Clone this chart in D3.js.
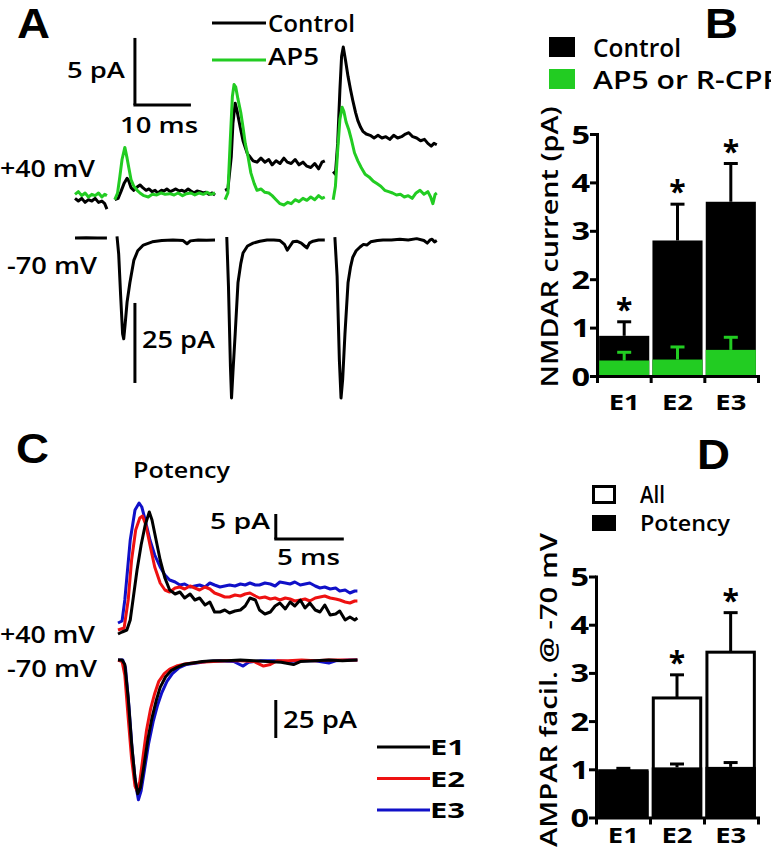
<!DOCTYPE html>
<html><head><meta charset="utf-8">
<script src="https://cdn.jsdelivr.net/npm/d3@7"></script>
<style>
body{margin:0;background:#fff;}
svg{display:block;font-family:"Open Sans",sans-serif;}
</style></head><body>
<svg id="c" width="771" height="853"></svg>
<script>
// ---------------- DATA ----------------
// Panel A: traces, time in ms, current in pA (segments separated by stimulus artifact blanking)
const aCtrlPos = [
  [[0,-0.1],[0.6,-0.3],[1.2,-0.1],[1.8,-0.4],[2.4,-0.2],[3.0,-0.3],[3.6,-0.1],[4.2,-0.4],[4.8,-0.3],[5.3,-0.5],[5.7,-0.9]],
  [[7.1,-0.2],[7.7,-0.1],[8.2,0.4],[8.75,1.0],[9.3,1.4],[9.6,1.2],[10.0,0.7],[10.5,0.5],[11.1,0.75],[11.6,0.9],[12.1,0.7],[12.7,0.5],[13.2,0.6],[13.75,0.4],[14.3,0.5],[14.8,0.3],[15.4,0.5],[15.9,0.45],[16.4,0.6],[17.0,0.4],[17.5,0.5],[18.0,0.6],[18.6,0.45],[19.1,0.5],[19.6,0.4],[20.2,0.6],[20.7,0.45],[21.25,0.3],[21.8,0.45],[22.3,0.4],[22.9,0.3],[23.4,0.35],[23.9,0.2],[24.5,0.3],[25.0,0.15]],
  [[26.8,0.5],[27.3,0.6],[27.9,3.0],[28.2,5.5],[28.6,7.0],[28.9,6.5],[29.5,5.2],[30.0,4.2],[30.4,3.7],[30.8,3.2],[31.25,3.0],[31.8,2.7],[32.5,2.6],[33.2,2.9],[33.9,2.6],[34.6,2.8],[35.2,2.4],[35.9,2.7],[36.6,2.5],[37.3,2.9],[37.9,2.6],[38.6,2.5],[39.3,2.8],[40.0,2.4],[40.7,2.6],[41.4,2.3],[42.1,2.2],[42.8,2.5],[43.5,2.1],[44.1,2.6],[44.6,2.7]],
  [[46.1,1.9],[46.5,1.7],[46.9,4.0],[47.3,8.0],[47.6,10.5],[47.9,11.2],[48.3,10.2],[48.75,9.0],[49.2,8.0],[49.6,7.2],[50.1,6.3],[50.5,5.7],[51.0,5.2],[51.4,4.9],[52.0,4.7],[52.7,4.6],[53.4,4.4],[54.1,4.6],[54.8,4.4],[55.5,4.5],[56.2,4.3],[56.9,4.6],[57.6,4.4],[58.3,4.5],[59.0,4.7],[59.6,4.8],[60.3,4.5],[61.0,4.4],[61.7,4.2],[62.4,4.3],[63.0,4.0],[63.6,3.8],[64.1,4.0],[64.6,3.9]]
];
const aAP5Pos = [
  [[0,0.2],[0.6,0.4],[1.2,0.1],[1.8,0.3],[2.4,0.0],[3.0,0.2],[3.6,0.1],[4.2,0.3],[4.8,0.0],[5.3,0.2],[5.7,0.1]],
  [[7.1,-0.2],[7.6,0.3],[8.0,1.5],[8.4,2.8],[8.9,3.7],[9.3,2.9],[9.6,2.2],[10.0,1.3],[10.5,0.8],[11.1,0.5],[11.6,0.3],[12.3,0.1],[13.1,0.0],[13.8,0.2],[14.6,0.15],[15.4,0.3],[16.1,0.2],[16.9,0.25],[17.7,0.15],[18.4,0.3],[19.2,0.1],[19.9,0.25],[20.7,0.3],[21.4,0.15],[22.2,0.3],[22.9,0.2],[23.6,0.35],[24.3,0.2],[25.0,0.3]],
  [[26.8,-0.2],[27.3,0.3],[27.7,4.0],[28.1,7.5],[28.4,8.4],[28.7,8.2],[29.1,7.3],[29.6,6.3],[30.0,5.2],[30.4,4.0],[30.9,3.0],[31.4,1.8],[32.0,1.0],[32.5,0.5],[33.2,0.6],[33.9,0.35],[34.6,0.3],[35.2,0.1],[35.9,-0.2],[36.6,-0.5],[37.3,-0.6],[38.0,-0.4],[38.6,-0.5],[39.3,-0.2],[40.0,-0.35],[40.7,-0.1],[41.4,-0.25],[42.1,0.0],[42.8,-0.2],[43.5,0.1],[44.1,-0.1],[44.6,0.0]],
  [[46.1,-0.2],[46.5,0.8],[46.9,3.5],[47.3,5.8],[47.7,6.7],[48.0,6.4],[48.4,5.6],[48.9,5.0],[49.4,4.2],[49.9,3.3],[50.5,2.7],[51.1,2.2],[51.8,1.7],[52.5,1.5],[53.2,1.2],[53.9,1.0],[54.6,0.8],[55.3,0.5],[56.0,0.4],[56.7,0.3],[57.4,0.15],[58.1,0.2],[58.8,0.0],[59.5,0.1],[60.2,-0.1],[60.9,0.3],[61.6,0.5],[62.3,0.2],[63.0,0.4],[63.5,0.0],[63.9,-0.5],[64.3,0.2],[64.6,0.3]]
];
const aCtrlNeg = [
  [[0,0],[2,0.1],[4,0],[5.7,0]],
  [[7.5,0.5],[7.8,-5],[8.15,-18],[8.5,-30],[8.7,-31.5],[8.95,-27],[9.3,-20],[9.8,-14],[10.5,-7],[11.2,-4],[12.2,-2.2],[13.8,-1.2],[15.5,-0.8],[17.5,-0.6],[19.3,-0.8],[20.0,-1.8],[20.6,-0.9],[22,-0.6],[23.5,-0.7],[25,-0.6]],
  [[27.1,0.3],[27.4,-15],[27.75,-40],[27.95,-50],[28.2,-42],[28.6,-30],[29.1,-14],[29.6,-8],[30.0,-4.7],[30.8,-2.5],[31.8,-1.6],[33,-1.0],[34.3,-0.6],[35.5,-0.6],[36.6,-0.8],[37.4,-2],[37.9,-3.8],[38.4,-2.5],[38.9,-1.2],[39.6,-1.0],[40.4,-1.6],[41.0,-2.5],[41.4,-3.1],[41.9,-1.5],[42.5,-1.0],[43.5,-0.6],[44.6,-0.6]],
  [[46.4,0.3],[46.8,-12],[47.2,-38],[47.5,-50],[47.8,-44],[48.2,-30],[48.75,-14],[49.2,-9],[49.6,-6],[50.2,-4],[50.9,-2.8],[51.5,-2],[52.1,-2.2],[52.8,-1.2],[54,-0.8],[55,-0.6],[56.5,-0.6],[58,-0.4],[59.5,-0.6],[61,-0.2],[62.3,-0.8],[62.9,-1.6],[63.4,-0.6],[63.75,-0.4],[64.2,-1.2],[64.6,-0.8]]
];
const aLegend = ["Control","AP5"];

// Panel B: NMDAR current (pA)
const categories = ["E1","E2","E3"];
const nmdaControl = [0.83, 2.80, 3.60];
const nmdaControlSem = [0.29, 0.75, 0.79];
const nmdaBlocked = [0.32, 0.34, 0.54];
const nmdaBlockedSem = [0.17, 0.26, 0.26];
const nmdaSignificant = [true, true, true];
const bLegend = ["Control","AP5 or R-CPP"];
const yTicks = [0,1,2,3,4,5];

// Panel C: potency traces (ms, pA)
const cPos = {
  E1: [[0,-0.8],[0.3,-0.4],[0.65,0],[0.9,2.0],[1.1,6.0],[1.4,12.0],[1.7,17.0],[2.0,21.0],[2.3,23.6],[2.5,22.0],[2.8,18.0],[3.1,14.0],[3.45,10.4],[3.8,8.0],[4.2,7.2],[4.55,7.6],[4.9,6.4],[5.3,7.2],[5.65,6.0],[6.0,6.4],[6.4,5.0],[6.75,5.6],[7.1,3.6],[7.5,3.6],[7.85,4.0],[8.2,3.4],[8.6,3.8],[9.0,4.0],[9.35,4.8],[9.7,6.4],[10.1,6.0],[10.4,4.0],[10.8,3.2],[11.2,3.6],[11.55,4.8],[11.9,5.4],[12.3,4.2],[12.65,5.6],[13.0,4.8],[13.4,6.0],[13.75,4.4],[14.1,5.4],[14.5,4.0],[14.85,3.6],[15.2,5.0],[15.6,3.0],[16.0,3.2],[16.3,3.8],[16.7,2.0],[17.05,2.6],[17.4,2.0],[17.6,2.4]],
  E2: [[0,0],[0.45,0.4],[0.75,6.0],[1.0,14.0],[1.3,20.0],[1.6,22.4],[1.8,22.8],[2.05,21.0],[2.35,17.0],[2.7,12.6],[3.1,9.4],[3.45,8.0],[3.8,7.6],[4.2,8.4],[4.55,8.6],[4.9,8.2],[5.3,8.8],[5.65,8.4],[6.0,8.0],[6.4,8.6],[6.75,8.2],[7.1,7.4],[7.5,7.0],[7.85,6.6],[8.2,6.6],[8.6,7.0],[9.0,6.8],[9.35,7.2],[9.7,7.4],[10.1,6.8],[10.4,6.4],[10.8,6.6],[11.2,6.2],[11.55,6.4],[11.9,6.0],[12.3,6.4],[12.65,6.2],[13.0,5.8],[13.4,6.0],[13.75,6.2],[14.1,5.8],[14.5,6.4],[14.85,6.6],[15.2,6.8],[15.6,6.4],[16.0,6.2],[16.3,6.0],[16.7,5.6],[17.05,5.4],[17.4,5.8],[17.6,5.8]],
  E3: [[0,1.4],[0.3,1.8],[0.5,6.0],[0.9,18.0],[1.25,24.0],[1.55,25.4],[1.75,24.6],[2.0,22.0],[2.35,18.0],[2.7,15.0],[3.1,12.6],[3.45,11.0],[3.8,10.0],[4.2,9.6],[4.55,9.0],[4.9,9.2],[5.3,8.6],[5.65,8.8],[6.0,9.0],[6.4,8.6],[6.75,9.4],[7.1,9.0],[7.5,8.6],[7.85,8.8],[8.2,9.0],[8.6,8.8],[9.0,9.2],[9.35,9.0],[9.7,9.4],[10.1,9.0],[10.4,9.0],[10.8,9.4],[11.2,9.2],[11.55,8.8],[11.9,9.6],[12.3,9.4],[12.65,9.2],[13.0,9.6],[13.4,9.0],[13.75,9.2],[14.1,9.4],[14.5,8.8],[14.85,8.4],[15.2,8.6],[15.6,8.2],[16.0,8.4],[16.3,7.8],[16.7,8.0],[17.05,7.4],[17.4,7.8],[17.6,7.8]]
};
const cNeg = {
  E3: [[0,0],[0.35,0],[0.55,-5],[0.8,-30],[1.05,-60],[1.3,-82],[1.5,-92],[1.7,-86],[1.95,-72],[2.25,-55],[2.6,-40],[2.9,-30],[3.2,-22],[3.6,-14],[4.0,-9],[4.5,-5],[5,-3],[5.8,-2],[6.5,-1],[7.5,-0.5],[8.5,-1],[9.2,-4],[9.6,-1.5],[10.5,-0.5],[11.5,-0.5],[12.5,-1],[13.5,-0.5],[14.5,-0.5],[15.5,-2],[16,-0.5],[17,0],[17.6,0]],
  E2: [[0,0],[0.3,-1],[0.5,-10],[0.75,-38],[1.0,-65],[1.25,-83],[1.4,-86],[1.6,-80],[1.85,-63],[2.1,-46],[2.4,-32],[2.7,-22],[3.0,-14],[3.4,-9],[3.8,-6],[4.3,-4],[5,-2.5],[6,-1.5],[7,-1],[8,-0.5],[9,-0.5],[10,-1],[10.7,-4],[11.2,-3],[11.7,-0.5],[12.5,-0.5],[13.5,0],[14.5,-0.5],[15.5,0],[16.5,0],[17.6,0]],
  E1: [[0,0],[0.3,0],[0.5,-3],[0.75,-25],[1.0,-55],[1.25,-78],[1.45,-88],[1.65,-84],[1.9,-70],[2.2,-52],[2.5,-38],[2.8,-27],[3.1,-18],[3.5,-11],[3.9,-7],[4.3,-5],[4.8,-3],[5.5,-2],[6.2,-1],[7,-0.5],[8,-0.5],[9,0],[10,-0.5],[11,-1],[12,-1.5],[12.9,-3],[13.4,-1],[14.5,-0.5],[15.5,0],[16.5,-0.5],[17.6,0]]
};
const cSeries = ["E1","E2","E3"];

// Panel D: AMPAR facilitation at -70 mV
const facilAll = [0.97, 2.48, 3.43];
const facilAllSem = [0, 0.48, 0.82];
const facilPotency = [0.97, 1.04, 1.05];
const facilPotencySem = [0.05, 0.07, 0.09];
const facilSignificant = [false, true, true];
const dLegend = ["All","Potency"];

// ---------------- STYLE ----------------
const GREEN = "#22cc22", RED = "#ee1111", BLUE = "#1010c8", BLACK = "#000";
const svg = d3.select("#c");

function T(g, str, x, y, o = {}) {
  const t = g.append("text").attr("x", x).attr("y", y).text(str)
    .attr("font-size", o.size || 22).attr("font-weight", o.w || "600")
    .attr("text-anchor", o.anchor || "start").attr("fill", o.fill || BLACK);
  if (o.family) t.attr("font-family", o.family);
  if (o.len) t.attr("textLength", o.len).attr("lengthAdjust", "spacingAndGlyphs");
  if (o.rot) t.attr("transform", `rotate(${o.rot},${x},${y})`);
  return t;
}
function trace(g, data, xs, ys, color) {
  g.append("path").attr("d", d3.line().x(d => xs(d[0])).y(d => ys(d[1]))(data))
    .attr("fill", "none").attr("stroke", color).attr("stroke-width", 3)
    .attr("stroke-linejoin", "round").attr("stroke-linecap", "butt");
}
function seg(g, x1, y1, x2, y2, color = BLACK, w = 3) {
  g.append("line").attr("x1", x1).attr("y1", y1).attr("x2", x2).attr("y2", y2)
    .attr("stroke", color).attr("stroke-width", w);
}
const LETTER = {size: 43, w: "bold", family: "Liberation Sans", len: 33};

// ---------------- PANEL A ----------------
const gA = svg.append("g");
const xA = d3.scaleLinear().domain([0, 64.6]).range([75, 436.8]);
const yApos = d3.scaleLinear().domain([0, 5]).range([197, 130]);
const yAneg = d3.scaleLinear().domain([0, -25]).range([238, 318]);
aCtrlPos.forEach(s => trace(gA, s, xA, yApos, BLACK));
aAP5Pos.forEach(s => trace(gA, s, xA, yApos, GREEN));
aCtrlNeg.forEach(s => trace(gA, s, xA, yAneg, BLACK));
// scale bars
seg(gA, xA(10.7), yApos(6.87), xA(10.7), yApos(11.87));
seg(gA, xA(10.7) - 1.5, yApos(6.87), xA(20.7), yApos(6.87));
seg(gA, xA(10.7), yAneg(-20.3), xA(10.7), yAneg(-45.3));
T(gA, "5 pA", 125, 78, {size: 22, anchor: "end", len: 58});
T(gA, "10 ms", 120, 133, {size: 22, len: 78});
T(gA, "25 pA", 142, 348, {size: 24, len: 73});
T(gA, "+40 mV", 0, 177, {size: 24, len: 95});
T(gA, "-70 mV", 7, 274, {size: 24, len: 90});
// legend
[BLACK, GREEN].forEach((c, i) => {
  seg(gA, 212, 23 + i * 37, 266, 23 + i * 37, c, 3);
  T(gA, aLegend[i], 268, 32 + i * 33, {size: 24, len: i ? 51 : 87});
});
T(gA, "A", 17, 38, LETTER);

// ---------------- BAR PANEL HELPER ----------------
function barAxes(g, y, x0, x1, y0) {
  const ga = g.append("g").attr("transform", `translate(${x0},0)`)
    .call(d3.axisLeft(y).tickValues(yTicks).tickFormat(d3.format("d")).tickSize(7).tickSizeOuter(0).tickPadding(1));
  ga.select(".domain").attr("stroke-width", 3).attr("stroke-linecap", "square");
  ga.selectAll(".tick line").attr("stroke-width", 3);
  ga.selectAll(".tick text").attr("font-size", 25).attr("font-weight", "bold")
    .attr("font-family", "Open Sans").attr("dy", "0.36em")
    .attr("transform", "scale(1.3,1)").attr("x", -7 / 1.3);
  const xl = d3.scaleLinear().domain([0, 3]).range([x0, x1]);
  const gx = g.append("g").attr("transform", `translate(0,${y0})`)
    .call(d3.axisBottom(xl).tickValues([0,1,2,3]).tickSize(7).tickSizeOuter(0).tickFormat(""));
  gx.select(".domain").attr("stroke-width", 3).attr("stroke-linecap", "square");
  gx.selectAll(".tick line").attr("stroke-width", 3);
}
function errBar(g, cx, yTop, yEnd, color) {
  seg(g, cx, yTop, cx, yEnd, color, 3);
  seg(g, cx - 7, yEnd, cx + 7, yEnd, color, 3);
}

// ---------------- PANEL B ----------------
const gB = svg.append("g");
const xB = d3.scaleBand().domain(categories).range([597, 758]).paddingInner(0.06).paddingOuter(0.04);
const yB = d3.scaleLinear().domain([0, 5]).range([376, 134]);
categories.forEach((c, i) => {
  gB.append("rect").attr("x", xB(c)).attr("width", xB.bandwidth())
    .attr("y", yB(nmdaControl[i])).attr("height", yB(0) - yB(nmdaControl[i])).attr("fill", BLACK);
  const cx = xB(c) + xB.bandwidth() / 2;
  errBar(gB, cx, yB(nmdaControl[i]), yB(nmdaControl[i] + nmdaControlSem[i]), BLACK);
  gB.append("rect").attr("x", xB(c)).attr("width", xB.bandwidth())
    .attr("y", yB(nmdaBlocked[i])).attr("height", yB(0) - yB(nmdaBlocked[i])).attr("fill", GREEN);
  errBar(gB, cx, yB(nmdaBlocked[i]), yB(nmdaBlocked[i] + nmdaBlockedSem[i]), GREEN);
  if (nmdaSignificant[i]) T(gB, "*", cx, yB(nmdaControl[i] + nmdaControlSem[i]) - 2, {size: 30, w: "bold", anchor: "middle"});
  T(gB, c, cx, 410, {size: 22, w: "bold", anchor: "middle", len: 31});
});
barAxes(gB, yB, 597, 758, 376);
T(gB, "NMDAR current (pA)", 558, 247, {size: 24, anchor: "middle", rot: -90, len: 281});
[BLACK, GREEN].forEach((c, i) => {
  gB.append("rect").attr("x", 549).attr("y", 37 + i * 32).attr("width", 26).attr("height", 20).attr("fill", c);
  T(gB, bLegend[i], 593, 57 + i * 32, {size: 25, len: i ? 188 : 88});
});
T(gB, "B", 705, 38, LETTER);

// ---------------- PANEL C ----------------
const gC = svg.append("g");
const xC = d3.scaleLinear().domain([0, 17.6]).range([118, 357.4]);
const yCpos = d3.scaleLinear().domain([0, 5]).range([630, 605]);
const yCneg = d3.scaleLinear().domain([0, -25]).range([660, 698]);
const cColor = {E1: BLACK, E2: RED, E3: BLUE};
["E3","E2","E1"].forEach(k => trace(gC, cPos[k], xC, yCpos, cColor[k]));
["E3","E2","E1"].forEach(k => trace(gC, cNeg[k], xC, yCneg, cColor[k]));
seg(gC, xC(11.6), yCpos(18.2), xC(11.6), yCpos(23.2));
seg(gC, xC(11.6) - 1.5, yCpos(18.2), xC(16.6), yCpos(18.2));
seg(gC, xC(11.6), yCneg(-26.3), xC(11.6), yCneg(-51.3));
T(gC, "Potency", 133, 478, {size: 21, len: 97});
T(gC, "5 pA", 270, 529, {size: 21, anchor: "end", len: 60});
T(gC, "5 ms", 277, 565, {size: 21, len: 63});
T(gC, "+40 mV", 0, 643, {size: 24, len: 95});
T(gC, "-70 mV", 7, 677, {size: 24, len: 90});
T(gC, "25 pA", 283, 728, {size: 24, len: 74});
cSeries.forEach((k, i) => {
  seg(gC, 377, 747 + i * 31.5, 430, 747 + i * 31.5, cColor[k], 3);
  T(gC, k, 430, 755 + i * 31.5, {size: 21, w: "bold", len: 35});
});
T(gC, "C", 16, 463, LETTER);

// ---------------- PANEL D ----------------
const gD = svg.append("g");
const xD = d3.scaleBand().domain(categories).range([596, 758]).paddingInner(0.06).paddingOuter(0.04);
const yD = d3.scaleLinear().domain([0, 5]).range([817.5, 576.5]);
categories.forEach((c, i) => {
  const cx = xD(c) + xD.bandwidth() / 2;
  errBar(gD, cx, yD(facilAll[i]), yD(facilAll[i] + facilAllSem[i]), BLACK);
  gD.append("rect").attr("x", xD(c) + 1.5).attr("width", xD.bandwidth() - 3)
    .attr("y", yD(facilAll[i])).attr("height", yD(0) - yD(facilAll[i]))
    .attr("fill", "#fff").attr("stroke", BLACK).attr("stroke-width", 3);
  gD.append("rect").attr("x", xD(c)).attr("width", xD.bandwidth())
    .attr("y", yD(facilPotency[i])).attr("height", yD(0) - yD(facilPotency[i])).attr("fill", BLACK);
  errBar(gD, cx, yD(facilPotency[i]), yD(facilPotency[i] + facilPotencySem[i]), BLACK);
  if (facilSignificant[i]) T(gD, "*", cx, yD(facilAll[i] + facilAllSem[i]) - 2, {size: 30, w: "bold", anchor: "middle"});
  T(gD, c, cx, 843, {size: 22, w: "bold", anchor: "middle", len: 31});
});
barAxes(gD, yD, 596, 758, 817.5);
T(gD, "AMPAR facil. @ -70 mV", 557, 690, {size: 24, anchor: "middle", rot: -90, len: 314});
gD.append("rect").attr("x", 593.5).attr("y", 486.5).attr("width", 21).attr("height", 16)
  .attr("fill", "#fff").attr("stroke", BLACK).attr("stroke-width", 3);
gD.append("rect").attr("x", 592).attr("y", 515).attr("width", 24).attr("height", 16).attr("fill", BLACK);
T(gD, dLegend[0], 640, 503, {size: 23, len: 25});
T(gD, dLegend[1], 640, 531, {size: 22, len: 90});
T(gD, "D", 697, 469, LETTER);
</script>
</body></html>
